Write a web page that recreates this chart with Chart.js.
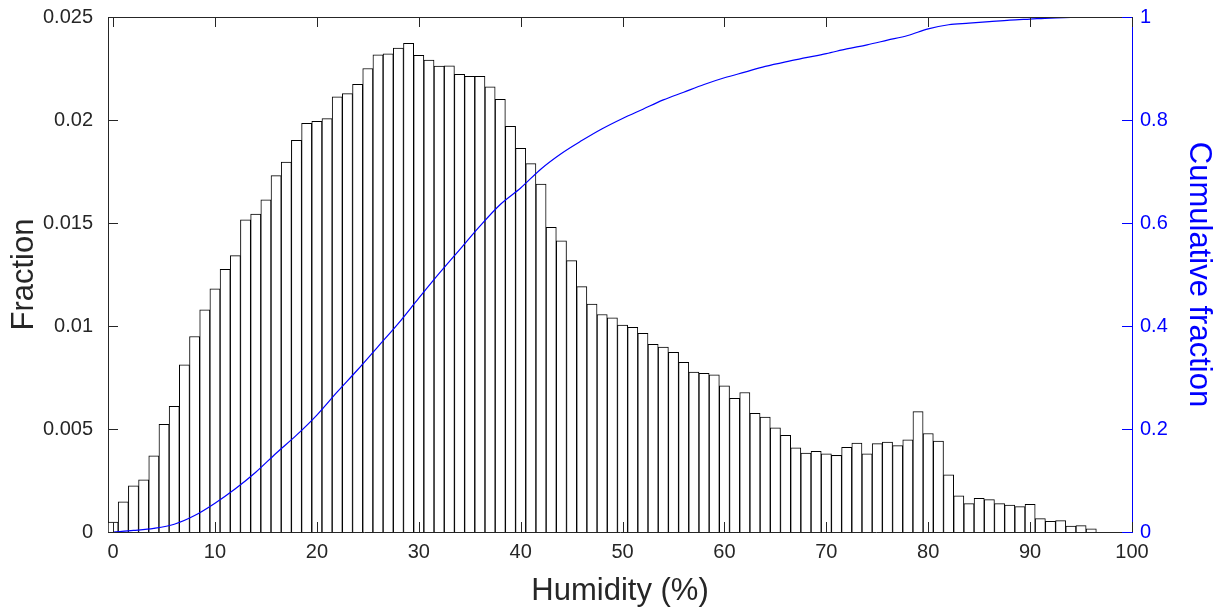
<!DOCTYPE html>
<html>
<head>
<meta charset="utf-8">
<script src="https://cdn.jsdelivr.net/npm/chart.js@4"></script>
<style>
  body { margin: 0; background: #fff; }
  canvas { display: block; }
</style>
</head>
<body>
<canvas id="chart" width="1221" height="609"></canvas>
<script>
// histogram bins, centred on whole humidity values
const binCenters = [];
for (let i = 0; i <= 98; i++) binCenters.push(i);

const fractions = [
  0.00048, 0.00146, 0.00224, 0.00253, 0.0037, 0.00523, 0.0061, 0.00811, 0.00949, 0.01079,
  0.01181, 0.01275, 0.01342, 0.01515, 0.01543, 0.01613, 0.0173, 0.01796, 0.01901, 0.01984,
  0.01993, 0.02007, 0.02113, 0.02128, 0.02173, 0.0225, 0.02316, 0.02321, 0.02349, 0.02372,
  0.02314, 0.02291, 0.02262, 0.02263, 0.02222, 0.02212, 0.02212, 0.02161, 0.021, 0.01969,
  0.01863, 0.01788, 0.01689, 0.01479, 0.01414, 0.01317, 0.01191, 0.01107, 0.01056, 0.0104,
  0.01005, 0.00993, 0.00965, 0.00911, 0.00898, 0.00872, 0.00824, 0.00776, 0.0077, 0.00763,
  0.00709, 0.00649, 0.00677, 0.00576, 0.00558, 0.00506, 0.00469, 0.00409, 0.00383, 0.00392,
  0.0038, 0.00372, 0.00411, 0.00432, 0.0038, 0.00429, 0.00437, 0.00419, 0.00447, 0.00584,
  0.00478, 0.00441, 0.00278, 0.00175, 0.00138, 0.00163, 0.00157, 0.00138, 0.00131, 0.00123,
  0.00134, 0.00065, 0.00052, 0.00055, 0.00029, 0.00031, 0.00015, 0, 0
];

// cumulative curve
const cumX = [0, 2, 4, 6, 8, 10, 12, 14, 16, 18, 20, 22, 24, 26, 28, 30, 32, 34, 36, 38, 40,
  42, 44, 46, 48, 50, 52, 54, 56, 58, 60, 62, 64, 66, 68, 70, 72, 74, 76, 78, 80,
  82, 84, 86, 88, 90, 92, 94, 96, 98, 100];
const cumY = [0, 0.003, 0.007, 0.015, 0.032, 0.056, 0.084, 0.116, 0.153, 0.188, 0.227,
  0.272, 0.315, 0.36, 0.405, 0.454, 0.502, 0.548, 0.594, 0.636, 0.668,
  0.705, 0.735, 0.76, 0.783, 0.803, 0.821, 0.839, 0.854, 0.869, 0.882,
  0.893, 0.904, 0.913, 0.921, 0.929, 0.938, 0.946, 0.955, 0.964, 0.977,
  0.985, 0.988, 0.991, 0.994, 0.996, 0.998, 0.999, 1, 1, 1];

const xTicks = [0, 10, 20, 30, 40, 50, 60, 70, 80, 90, 100];
const yTicks = [0, 0.005, 0.01, 0.015, 0.02, 0.025];
const yTickLabels = ['0', '0.005', '0.01', '0.015', '0.02', '0.025'];
const y1Ticks = [0, 0.2, 0.4, 0.6, 0.8, 1];
const y1TickLabels = ['0', '0.2', '0.4', '0.6', '0.8', '1'];

const FONT = '"Liberation Sans", Arial, Helvetica, sans-serif';
const AXIS = '#262626';
const BLUE = '#0000ff';

// matlab style inward ticks + top box line
const inwardTicks = {
  id: 'inwardTicks',
  afterDatasetsDraw(chart) {
    const c = chart.ctx;
    const a = chart.chartArea;
    const x = chart.scales.x, y = chart.scales.y, y1 = chart.scales.y1;
    const len = 10;
    c.save();
    c.lineWidth = 1;
    c.strokeStyle = AXIS;
    c.beginPath();
    c.moveTo(a.left, a.top + 0.5);
    c.lineTo(a.right, a.top + 0.5);
    xTicks.forEach(v => {
      const px = Math.round(x.getPixelForValue(v)) + 0.5;
      c.moveTo(px, a.bottom);
      c.lineTo(px, a.bottom - len);
      c.moveTo(px, a.top);
      c.lineTo(px, a.top + len);
    });
    yTicks.forEach(v => {
      const py = Math.round(y.getPixelForValue(v)) + 0.5;
      c.moveTo(a.left, py);
      c.lineTo(a.left + len, py);
    });
    c.stroke();
    c.strokeStyle = BLUE;
    c.beginPath();
    y1Ticks.forEach(v => {
      const py = Math.round(y1.getPixelForValue(v)) + 0.5;
      c.moveTo(a.right, py);
      c.lineTo(a.right - len, py);
    });
    c.stroke();
    c.restore();
  }
};

const ctx = document.getElementById('chart').getContext('2d');
const myChart = new Chart(ctx, {
  data: {
    datasets: [
      {
        type: 'line',
        label: 'Cumulative fraction',
        data: cumX.map((h, i) => ({ x: h, y: cumY[i] })),
        yAxisID: 'y1',
        borderColor: BLUE,
        borderWidth: 1.2,
        pointRadius: 0,
        cubicInterpolationMode: 'monotone',
        order: 0
      },
      {
        type: 'bar',
        label: 'Fraction',
        data: binCenters.map((h, i) => ({ x: h, y: fractions[i] })),
        yAxisID: 'y',
        backgroundColor: '#ffffff',
        borderColor: '#000000',
        borderWidth: 1,
        barPercentage: 1,
        categoryPercentage: 1,
        order: 1
      }
    ]
  },
  options: {
    responsive: false,
    animation: false,
    layout: { padding: { top: 17, left: 0, right: 0, bottom: 0 } },
    plugins: {
      legend: { display: false },
      tooltip: { enabled: false }
    },
    scales: {
      x: {
        type: 'linear',
        min: -0.5,
        max: 100,
        offset: false,
        afterBuildTicks: s => { s.ticks = xTicks.map(v => ({ value: v })); },
        afterFit: s => { s.height = 77; s.paddingLeft = 0; s.paddingRight = 0; },
        grid: { display: false, drawTicks: false, offset: false },
        border: { display: true, color: AXIS, width: 1 },
        ticks: {
          color: AXIS,
          padding: 8,
          maxRotation: 0,
          font: { family: FONT, size: 20 },
          callback: v => String(v)
        },
        title: {
          display: true,
          text: 'Humidity (%)',
          color: AXIS,
          padding: 0,
          font: { family: FONT, size: 31, lineHeight: 1.1 }
        }
      },
      y: {
        position: 'left',
        min: 0,
        max: 0.025,
        afterBuildTicks: s => { s.ticks = yTicks.map(v => ({ value: v })); },
        afterFit: s => { s.width = 108; s.paddingTop = 0; s.paddingBottom = 0; },
        grid: { display: false, drawTicks: false },
        border: { display: true, color: AXIS, width: 1 },
        ticks: {
          color: AXIS,
          padding: 15,
          font: { family: FONT, size: 20 },
          callback: (v, i) => yTickLabels[i]
        },
        title: {
          display: true,
          text: 'Fraction',
          color: AXIS,
          padding: 6,
          font: { family: FONT, size: 31, lineHeight: 1.2 }
        }
      },
      y1: {
        position: 'right',
        min: 0,
        max: 1,
        afterBuildTicks: s => { s.ticks = y1Ticks.map(v => ({ value: v })); },
        afterFit: s => { s.width = 89; s.paddingTop = 0; s.paddingBottom = 0; },
        grid: { display: false, drawTicks: false },
        border: { display: true, color: BLUE, width: 1 },
        ticks: {
          color: BLUE,
          padding: 8,
          font: { family: FONT, size: 20 },
          callback: (v, i) => y1TickLabels[i]
        },
        title: {
          display: true,
          text: 'Cumulative fraction',
          color: BLUE,
          padding: 4,
          font: { family: FONT, size: 31, lineHeight: 1.2 }
        }
      }
    }
  },
  plugins: [inwardTicks]
});
</script>
</body>
</html>
